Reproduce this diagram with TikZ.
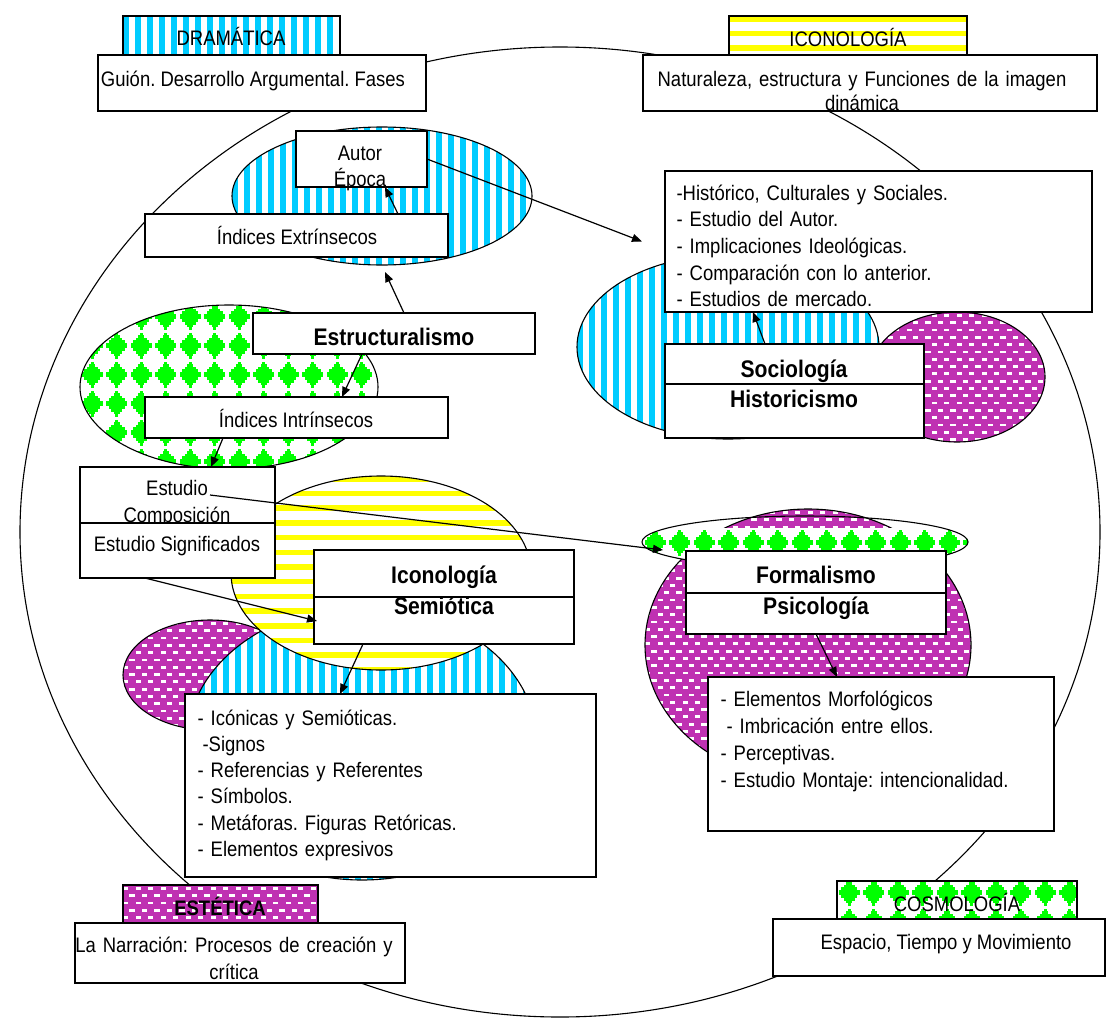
\documentclass[tikz,border=0pt]{standalone}
\usepackage{fontspec}
\setmainfont{Liberation Sans}[FakeStretch=0.88]
\usetikzlibrary{arrows.meta}

\definecolor{stripeblue}{RGB}{0,204,255}
\definecolor{stripeyellow}{RGB}{255,255,0}
\definecolor{dotgreen}{RGB}{0,255,0}
\definecolor{brickmag}{RGB}{191,49,178}

% fillers for a region x0,y0,x1,y1 (used inside path pictures)
\newcommand\fillvstripes[4]{%
  \fill[white] ({#1},{#2}) rectangle ({#3},{#4});
  \pgfmathtruncatemacro\nst{((#3)-(#1))/12}%
  \foreach \ii in {0,...,\nst} {\fill[stripeblue] ({(#1)+12*\ii},{#2}) rectangle ({(#1)+12*\ii+6},{#4});}%
}
\newcommand\fillhstripes[4]{%
  \fill[white] ({#1},{#2}) rectangle ({#3},{#4});
  \pgfmathtruncatemacro\nst{((#4)-(#2))/14.7}%
  \foreach \ii in {0,...,\nst} {\fill[stripeyellow] ({#1},{(#2)+14.7*\ii}) rectangle ({#3},{(#2)+14.7*\ii+5.5});}%
}
\newcommand\fillbricks[4]{%
  \fill[brickmag] ({#1},{#2}) rectangle ({#3},{#4});
  \pgfmathtruncatemacro\nrw{((#4)-(#2))/7.3}%
  \pgfmathtruncatemacro\ncl{((#3)-(#1))/12.5}%
  \foreach \ri in {0,...,\nrw} {\foreach \ci in {0,...,\ncl} {%
    \fill[white] ({(#1)+12.5*\ci+6.25*mod(\ri,2)},{(#2)+7.3*\ri+2}) rectangle ++(5.3,2.8);}}%
}
% one stepped diamond centred at (#1,#2)
\newcommand\gem[2]{%
  \fill[dotgreen] ({#1-10.5},{#2-2.5}) rectangle ({#1+10.5},{#2+2.5});
  \fill[dotgreen] ({#1-8},{#2-5.5}) rectangle ({#1+8},{#2+5.5});
  \fill[dotgreen] ({#1-5.5},{#2-8}) rectangle ({#1+5.5},{#2+8});
  \fill[dotgreen] ({#1-3},{#2-10.5}) rectangle ({#1+3},{#2+10.5});
  \fill[dotgreen] ({#1-1.5},{#2-13}) rectangle ({#1+1.5},{#2+13});
}
\newcommand\fillgems[4]{%
  \fill[white] ({#1},{#2}) rectangle ({#3},{#4});
  \pgfmathtruncatemacro\nrw{((#4)-(#2))/29}%
  \pgfmathtruncatemacro\ncl{((#3)-(#1))/24.5}%
  \foreach \ri in {0,...,\nrw} {\foreach \ci in {0,...,\ncl} {%
    \gem{(#1)+24.5*\ci+12.25}{(#2)+29*\ri+14.5}}}%
}

\begin{document}
\frenchspacing
\begin{tikzpicture}[x=1pt,y=-1pt,line width=1.1pt,
  panel/.style={draw, fill=white, inner sep=0pt, outer sep=0pt, anchor=north west},
  lbl/.style={font=\fontsize{21}{26}\selectfont, inner sep=0pt, anchor=base},
  hdl/.style={font=\fontsize{24}{31}\selectfont\bfseries, inner sep=0pt, anchor=base},
  listtxt/.style={font=\fontsize{21}{26.5}\selectfont, inner sep=0pt, anchor=base west, text width=#1, align=left},
  arr/.style={-{Triangle[length=10pt,width=8pt]}, line width=1.2pt}]

\fill[white] (0,0) rectangle (1110,1017);
\useasboundingbox (0,0) rectangle (1110,1017);

% large enclosing circle
\draw (560,532) ellipse [x radius=540pt, y radius=485pt];

% patterned areas
\draw[path picture={\fillbricks{869}{312}{1045}{442}}] (957,377) ellipse [x radius=88pt, y radius=65pt];
\draw[path picture={\fillvstripes{577}{255}{879}{439}}] (728,347) ellipse [x radius=151pt, y radius=92pt];
\draw[path picture={\fillvstripes{232}{127}{532}{265}}] (382,196) ellipse [x radius=150pt, y radius=69pt];
\draw[path picture={\fillgems{80}{302}{378}{469}}] (229,387) ellipse [x radius=149pt, y radius=82pt];
\draw[path picture={\fillbricks{123}{620}{297}{730}}] (210,675) ellipse [x radius=87pt, y radius=55pt];
\draw[path picture={\fillvstripes{187}{606}{537}{880}}] (362,743) ellipse [x radius=175pt, y radius=137pt];
\draw[path picture={\fillhstripes{231}{476}{531}{670}}] (381,573) ellipse [x radius=150pt, y radius=97pt];
\draw[path picture={\fillbricks{645}{509}{971}{781}}] (808,645) ellipse [x radius=163pt, y radius=136pt];
\draw[path picture={\fillgems{643}{528}{968}{568}}] (805,542) ellipse [x radius=163pt, y radius=26pt];

% corner headers
\draw[path picture={\fillvstripes{123}{16}{340}{56}}] (123,16) rectangle (340,56);
\draw[path picture={\fillhstripes{729}{16}{967}{56}}] (729,16) rectangle (967,56);
\draw[path picture={\fillbricks{123}{885}{318}{923}}] (123,885) rectangle (318,923);
\draw[path picture={\fillgems{837}{878}{1077}{919}}] (837,881) rectangle (1077,919);

% boxes
\node[panel, minimum width=328pt, minimum height=56pt] (guion) at (98,55) {};
\node[panel, minimum width=454pt, minimum height=56pt] (natur) at (643,55) {};
\node[panel, minimum width=131pt, minimum height=56pt] (autor) at (296,131) {};
\node[panel, minimum width=303pt, minimum height=43pt] (ext) at (145,214) {};
\node[panel, minimum width=282pt, minimum height=41pt] (estr) at (253,313) {};
\node[panel, minimum width=303pt, minimum height=41pt] (intr) at (145,397) {};
\node[panel, minimum width=195pt, minimum height=111pt] (estudio) at (80,467) {};
\node[panel, minimum width=260pt, minimum height=94pt] (icon) at (314,550) {};
\node[panel, minimum width=411pt, minimum height=183pt] (iconList) at (185,694) {};
\node[panel, minimum width=330pt, minimum height=60pt] (narr) at (75,923) {};
\node[panel, minimum width=332pt, minimum height=57pt] (espacio) at (773,919) {};
\node[panel, minimum width=427pt, minimum height=141pt] (hist) at (665,171) {};
\node[panel, minimum width=259pt, minimum height=94pt] (socio) at (665,344) {};
\node[panel, minimum width=260pt, minimum height=83pt] (formal) at (686,551) {};
\node[panel, minimum width=346pt, minimum height=154pt] (elem) at (708,677) {};

% dividers inside split boxes
\draw ([yshift=-47pt]icon.north west) -- ([yshift=-47pt]icon.north east);
\draw ([yshift=-40pt]socio.north west) -- ([yshift=-40pt]socio.north east);
\draw ([yshift=-42pt]formal.north west) -- ([yshift=-42pt]formal.north east);

% texts
\node[lbl] (dramT) at (231,45) {DRAMÁTICA};
\node[lbl] (iconHT) at (848,46) {ICONOLOGÍA};
\node[lbl, font=\fontsize{21}{26}\selectfont\bfseries] (estetT) at (220,915) {ESTÉTICA};
\node[lbl] (cosmoT) at (957,911) {COSMOLOGÍA};

\node[lbl] (guionT) at (253,86) {Guión. Desarrollo Argumental. Fases};
\node[lbl, text width=450pt, align=center, font=\fontsize{21}{24.7}\selectfont] (naturT) at (862,86) {Naturaleza, estructura y Funciones de la imagen\\dinámica};
\node[lbl, text width=120pt, align=center, font=\fontsize{21}{26.7}\selectfont] (autorT) at (360,160) {Autor\\Época};
\node[lbl] (extT) at (297,244) {Índices Extrínsecos};
\node[hdl] (estrT) at (394,345) {Estructuralismo};
\node[lbl] (intrT) at (296,427) {Índices Intrínsecos};
\node[lbl, text width=190pt, align=center, font=\fontsize{21}{27.7}\selectfont] (estudioT) at (177,495) {Estudio\\Composición};
% lower cell of the split box covers the foot of the upper text
\node[panel, minimum width=195pt, minimum height=55pt] (estudioLow) at (80,523) {};
\node[lbl] (estudioT2) at (177,551.7) {Estudio Significados};
\node[hdl] (iconT1) at (444,583) {Iconología};
\node[hdl] (iconT2) at (444,614) {Semiótica};
\node[listtxt=400pt, font=\fontsize{21}{26.3}\selectfont] (iconListT) at (197,725) {- Icónicas y Semióticas.\\\hspace*{5pt}-Signos\\- Referencias y Referentes\\- Símbolos.\\- Metáforas. Figuras Retóricas.\\- Elementos expresivos};
\node[lbl, text width=420pt, align=center, font=\fontsize{21}{26.3}\selectfont] (narrT) at (234,952.7) {La Narración: Procesos de creación y\\crítica};
\node[lbl] (espacioT) at (946,949) {Espacio, Tiempo y Movimiento};
\node[listtxt=410pt, font=\fontsize{21}{26.7}\selectfont] (histT) at (676,200) {-Histórico, Culturales y Sociales.\\- Estudio del Autor.\\- Implicaciones Ideológicas.\\- Comparación con lo anterior.\\- Estudios de mercado.};
\node[hdl] (socioT1) at (794,377) {Sociología};
\node[hdl] (socioT2) at (794,407) {Historicismo};
\node[hdl] (formalT1) at (816,583) {Formalismo};
\node[hdl] (formalT2) at (816,614) {Psicología};
\node[listtxt=330pt, font=\fontsize{21}{27}\selectfont] (elemT) at (720,706) {- Elementos Morfológicos\\\hspace*{6pt}- Imbricación entre ellos.\\- Perceptivas.\\- Estudio Montaje: intencionalidad.};

% connectors
\draw[arr] ([xshift=101.5pt]ext.north) -- ([xshift=23.5pt]autor.south);
\draw[arr] ([xshift=10pt]estr.north) -- ([xshift=88.5pt,yshift=-15pt]ext.south);
\draw[arr] ([xshift=-32pt]estr.south) -- ([xshift=45.5pt]intr.north);
\draw[arr] ([xshift=-73.5pt]intr.south) -- ([xshift=33.5pt]estudio.north);
\draw[arr] ([xshift=32.5pt,yshift=-28pt]estudio.north) -- ([xshift=-23pt,yshift=1pt]formal.north west);
\draw[arr] ([xshift=-32.5pt]estudioLow.south) -- ([xshift=3pt,yshift=-24pt]icon.west);
\draw[arr] ([xshift=-81pt]icon.south) -- ([xshift=-50.5pt]iconList.north);
\draw[arr] (autor.east) -- ([xshift=-23pt]hist.west);
\draw[arr] ([xshift=-29.5pt]socio.north) -- ([xshift=-125.5pt]hist.south);
\draw[arr] (formal.south) -- ([xshift=-44pt]elem.north);
\end{tikzpicture}
\end{document}
